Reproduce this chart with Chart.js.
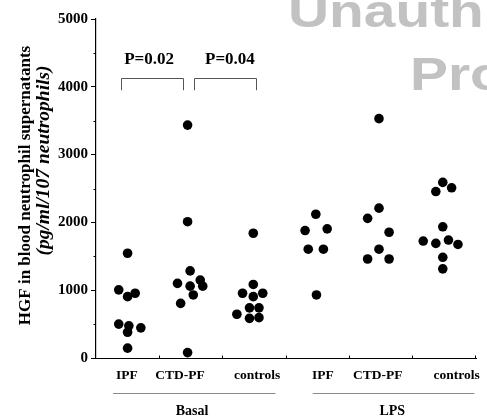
<!DOCTYPE html>
<html><head><meta charset="utf-8">
<script src="https://cdn.jsdelivr.net/npm/chart.js@4.4.1/dist/chart.umd.min.js"></script>
<style>html,body{margin:0;padding:0;background:#fff;overflow:hidden}</style>
</head><body>
<canvas id="c" width="487" height="417" style="display:block;width:487px;height:417px"></canvas>
<script>
// ---- data ----
const categories = ['IPF', 'CTD-PF', 'controls', 'IPF', 'CTD-PF', 'controls'];
const groupNames = ['Basal', 'LPS'];
const yTickValues = [0, 1000, 2000, 3000, 4000, 5000];
const yTitle = 'HGF in blood neutrophil supernatants';
const yUnits = '(pg/ml/107 neutrophils)';
const pValues = ['P=0.02', 'P=0.04'];

const basalIPF      = [1545, 1005, 905, 955, 500, 475, 380, 445, 145];
const basalCTDPF    = [3435, 2010, 1285, 1150, 1100, 1060, 1060, 930, 805, 80];
const basalControls = [1840, 1085, 955, 905, 955, 740, 740, 645, 585, 595];
const lpsIPF        = [2120, 1880, 1905, 1605, 1605, 930];
const lpsCTDPF      = [3530, 2210, 2060, 1855, 1605, 1460, 1460];
const lpsControls   = [2590, 2510, 2455, 1935, 1725, 1690, 1740, 1675, 1485, 1315];

// ---- layout (horizontal scatter of dots within each column, in category units) ----
const jitter = [
  [0, -0.14, 0, 0.12, -0.14, 0.02, 0, 0.21, 0],
  [-0.05, -0.05, -0.01, 0.15, -0.21, -0.01, 0.19, 0.04, -0.16, -0.05],
  [-0.01, -0.01, -0.18, -0.01, 0.14, -0.07, 0.08, -0.27, -0.07, 0.08],
  [-0.02, -0.19, 0.16, -0.14, 0.10, -0.01],
  [-0.02, -0.02, -0.2, 0.14, -0.02, -0.2, 0.14],
  [-0.01, 0.13, -0.12, -0.01, -0.32, -0.12, 0.08, 0.23, -0.01, -0.01]
];
const seriesValues = [basalIPF, basalCTDPF, basalControls, lpsIPF, lpsCTDPF, lpsControls];
const labelPos = [0.49, 1.33, 2.55, 3.59, 4.46, 5.71];
const groupSpan = [[0.27, 2.84], [3.43, 5.99]];
const groupLabelPos = [1.52, 4.69];
const brackets = [[0.40, 1.38], [1.55, 2.53]];
const bracketTop = 4130, bracketBottom = 3950, pLabelY = 4400;
const pLabelPos = [0.84, 2.12];

const SERIF = '"Liberation Serif", "Times New Roman", serif';

const datasets = seriesValues.map((vals, ci) => ({
  label: categories[ci],
  data: vals.map((v, i) => ({ x: ci + 0.5 + jitter[ci][i], y: v })),
  pointRadius: 4.8,
  pointBackgroundColor: '#000',
  pointBorderWidth: 0,
  pointHoverRadius: 4.8,
  showLine: false
}));

const decor = {
  id: 'decor',
  beforeDraw(chart) {
    const ctx = chart.ctx;
    ctx.save();
    ctx.fillStyle = '#c2c2c2';
    ctx.font = 'bold 47px "Liberation Sans", Arial, sans-serif';
    ctx.textBaseline = 'alphabetic';
    ctx.textAlign = 'left';
    ctx.save();
    ctx.translate(288, 27);
    ctx.scale(1.21, 1);
    ctx.fillText('Unauth', 0, 0);
    ctx.restore();
    ctx.save();
    ctx.translate(410, 90);
    ctx.scale(1.21, 1);
    ctx.fillText('Pro', 0, 0);
    ctx.restore();
    ctx.restore();
  },
  afterDraw(chart) {
    const ctx = chart.ctx;
    const xs = chart.scales.x, ys = chart.scales.y;
    const ca = chart.chartArea;
    ctx.save();
    // x axis line
    ctx.strokeStyle = '#000';
    ctx.lineWidth = 1.2;
    const yb = Math.round(ca.bottom) + 0.5;
    ctx.beginPath(); ctx.moveTo(91, yb); ctx.lineTo(477, yb); ctx.stroke();
    // x tick marks (upward)
    ctx.lineWidth = 1;
    for (let i = 1; i <= 6; i++) {
      const px = Math.round(xs.getPixelForValue(i)) + 0.5;
      ctx.beginPath(); ctx.moveTo(px, yb); ctx.lineTo(px, yb - 3); ctx.stroke();
    }
    // y minor ticks
    for (let v = 500; v < 5000; v += 1000) {
      const py = Math.round(ys.getPixelForValue(v)) + 0.5;
      ctx.beginPath(); ctx.moveTo(ca.left - 2.5, py); ctx.lineTo(ca.left, py); ctx.stroke();
    }
    // category labels
    ctx.fillStyle = '#000';
    ctx.font = 'bold 13.5px ' + SERIF;
    ctx.textAlign = 'center';
    ctx.textBaseline = 'middle';
    categories.forEach((c, i) => ctx.fillText(c, xs.getPixelForValue(labelPos[i]), 376));
    // group lines + labels
    ctx.strokeStyle = '#8a8a8a';
    ctx.lineWidth = 1;
    groupSpan.forEach((g, i) => {
      ctx.beginPath();
      ctx.moveTo(xs.getPixelForValue(g[0]), 393.5);
      ctx.lineTo(xs.getPixelForValue(g[1]), 393.5);
      ctx.stroke();
      ctx.font = 'bold 14px ' + SERIF;
      ctx.fillText(groupNames[i], xs.getPixelForValue(groupLabelPos[i]), 411);
    });
    // brackets
    ctx.strokeStyle = '#555';
    ctx.lineWidth = 1;
    const bt = Math.round(ys.getPixelForValue(bracketTop)) + 0.5;
    const bb = ys.getPixelForValue(bracketBottom);
    brackets.forEach(b => {
      const l = Math.round(xs.getPixelForValue(b[0])) + 0.5;
      const r = Math.round(xs.getPixelForValue(b[1])) + 0.5;
      ctx.beginPath();
      ctx.moveTo(l, bb); ctx.lineTo(l, bt); ctx.lineTo(r, bt); ctx.lineTo(r, bb);
      ctx.stroke();
    });
    // p values
    ctx.font = 'bold 17px ' + SERIF;
    pValues.forEach((p, i) => ctx.fillText(p, xs.getPixelForValue(pLabelPos[i]), ys.getPixelForValue(pLabelY)));
    // y title
    ctx.save();
    ctx.translate(30, 185.5);
    ctx.rotate(-Math.PI / 2);
    ctx.textBaseline = 'alphabetic';
    ctx.font = 'bold 17px ' + SERIF;
    ctx.fillText(yTitle, 0, 0);
    ctx.restore();
    ctx.save();
    ctx.translate(48.5, 160.5);
    ctx.rotate(-Math.PI / 2);
    ctx.textBaseline = 'alphabetic';
    ctx.font = 'italic bold 19.5px ' + SERIF;
    ctx.fillText(yUnits, 0, 0);
    ctx.restore();
    ctx.restore();
  }
};

new Chart(document.getElementById('c'), {
  type: 'scatter',
  data: { datasets },
  options: {
    responsive: false,
    animation: false,
    events: [],
    layout: { padding: { top: 19, right: 12, left: 0, bottom: 0 } },
    plugins: { legend: { display: false }, tooltip: { enabled: false }, title: { display: false } },
    scales: {
      x: {
        type: 'linear', min: 0, max: 6,
        ticks: { display: false },
        grid: { display: false },
        border: { display: false },
        afterFit(s) { s.height = 59; }
      },
      y: {
        min: 0, max: 5000,
        afterBuildTicks(s) { s.ticks = yTickValues.map(v => ({ value: v })); },
        ticks: {
          color: '#000', padding: 3,
          font: { family: SERIF, weight: 'bold', size: 15 },
          callback: v => String(v)
        },
        grid: { drawOnChartArea: false, tickLength: 5, color: '#000', tickColor: '#000', tickWidth: 1 },
        border: { color: '#000', width: 1.2 },
        afterFit(s) { s.width = 96; }
      }
    }
  },
  plugins: [decor]
});
</script>
</body></html>
